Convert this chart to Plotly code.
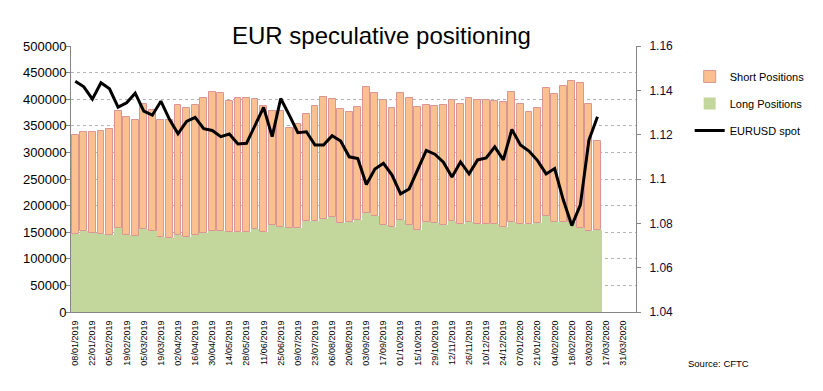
import plotly.graph_objects as go

# ---------------- data ----------------
weeks = [
    "08/01/2019", "15/01/2019", "22/01/2019", "29/01/2019",
    "05/02/2019", "12/02/2019", "19/02/2019", "26/02/2019",
    "05/03/2019", "12/03/2019", "19/03/2019", "26/03/2019",
    "02/04/2019", "09/04/2019", "16/04/2019", "23/04/2019", "30/04/2019",
    "07/05/2019", "14/05/2019", "21/05/2019", "28/05/2019",
    "04/06/2019", "11/06/2019", "18/06/2019", "25/06/2019",
    "02/07/2019", "09/07/2019", "16/07/2019", "23/07/2019", "30/07/2019",
    "06/08/2019", "13/08/2019", "20/08/2019", "27/08/2019",
    "03/09/2019", "10/09/2019", "17/09/2019", "24/09/2019",
    "01/10/2019", "08/10/2019", "15/10/2019", "22/10/2019", "29/10/2019",
    "05/11/2019", "12/11/2019", "19/11/2019", "26/11/2019",
    "03/12/2019", "10/12/2019", "17/12/2019", "24/12/2019", "31/12/2019",
    "07/01/2020", "14/01/2020", "21/01/2020", "28/01/2020",
    "04/02/2020", "11/02/2020", "18/02/2020", "25/02/2020",
    "03/03/2020", "10/03/2020",
]
future_weeks = ["17/03/2020", "24/03/2020", "31/03/2020", "07/04/2020"]

tick_labels = [
    "08/01/2019", "22/01/2019", "05/02/2019", "19/02/2019", "05/03/2019",
    "19/03/2019", "02/04/2019", "16/04/2019", "30/04/2019", "14/05/2019",
    "28/05/2019", "11/06/2019", "25/06/2019", "09/07/2019", "23/07/2019",
    "06/08/2019", "20/08/2019", "03/09/2019", "17/09/2019", "01/10/2019",
    "15/10/2019", "29/10/2019", "12/11/2019", "26/11/2019", "10/12/2019",
    "24/12/2019", "07/01/2020", "21/01/2020", "04/02/2020", "18/02/2020",
    "03/03/2020", "17/03/2020", "31/03/2020",
]

long_positions = [
    146000, 152000, 148500, 147000, 145000, 157000, 144500, 142500,
    155500, 152000, 140500, 138500, 144500, 140500, 144500, 148000,
    152500, 152000, 150000, 150000, 150000, 155500, 150000, 163000,
    159500, 157000, 157000, 170500, 172000, 174000, 178000, 168000,
    169000, 173000, 185500, 180000, 163000, 160000, 172500, 163500,
    154500, 168500, 167500, 163500, 170500, 164500, 168500, 164500,
    165000, 165500, 160000, 169500, 165500, 164500, 168000, 180000,
    168500, 168500, 169500, 158000, 153000, 153500,
]

short_positions = [
    186500, 186500, 190000, 193000, 198500, 220500, 221500, 218000,
    235500, 227000, 220000, 222500, 244200, 243000, 244500, 254000,
    260500, 259000, 246000, 252000, 252000, 244500, 237000, 214500,
    217500, 188600, 196500, 201500, 215000, 230000, 222300, 213000,
    207000, 212000, 237000, 232000, 235700, 223000, 239500, 238500,
    230500, 220200, 219500, 225200, 227500, 226800, 233500, 233500,
    233000, 230800, 234400, 243500, 225100, 211800, 215000, 240600,
    240900, 255900, 264200, 272600, 237600, 167800,
]

eurusd_spot = [
    1.1441, 1.1416, 1.1360, 1.1434, 1.1407, 1.1324, 1.1344, 1.1387,
    1.1306, 1.1288, 1.1351, 1.1269, 1.1204, 1.1260, 1.1278, 1.1227,
    1.1219, 1.1191, 1.1203, 1.1158, 1.1161, 1.1245, 1.1323, 1.1191,
    1.1363, 1.1288, 1.1209, 1.1213, 1.1153, 1.1153, 1.1195, 1.1171,
    1.1100, 1.1092, 1.0975, 1.1045, 1.1071, 1.1018, 1.0933, 1.0955,
    1.1041, 1.1129, 1.1112, 1.1076, 1.1009, 1.1077, 1.1023, 1.1086,
    1.1095, 1.1145, 1.1086, 1.1224, 1.1153, 1.1126, 1.1083, 1.1023,
    1.1047, 1.0906, 1.0790, 1.0883, 1.1176, 1.1281,
]

all_weeks = weeks + future_weeks
n_cat = len(all_weeks)
x_range = [-0.5, n_cat - 0.5]

FONT = "Liberation Sans, Arial, sans-serif"
AXIS_GREY = "#868686"

fig = go.Figure()

fig.add_trace(go.Bar(
    x=weeks, y=short_positions, base=long_positions,
    name="Short Positions", width=0.8,
    marker=dict(color="#fac090", line=dict(color="#d99694", width=1)),
    legendgroup="a", legendrank=1,
))
fig.add_trace(go.Bar(
    x=weeks, y=long_positions,
    name="Long Positions", width=1.0,
    marker=dict(color="#c3d69b", line=dict(width=0)),
    legendgroup="b", legendrank=2,
))
fig.add_trace(go.Scatter(
    x=weeks, y=eurusd_spot, yaxis="y2", mode="lines",
    name="EURUSD spot", line=dict(color="black", width=3),
    legendgroup="c", legendrank=3,
))

fig.update_layout(
    width=823, height=391,
    margin=dict(l=71, r=187, t=46, b=79),
    paper_bgcolor="white", plot_bgcolor="white",
    barmode="overlay", bargap=0,
    font=dict(family=FONT, color="black", size=11),
    showlegend=True,
    legend=dict(
        x=1.095, y=0.94, xanchor="left", yanchor="top",
        font=dict(size=11, family=FONT, color="black"),
        traceorder="grouped", tracegroupgap=8,
        bgcolor="rgba(0,0,0,0)", itemwidth=30,
    ),
    xaxis=dict(
        type="category", categoryorder="array", categoryarray=all_weeks,
        range=x_range, tickmode="array", tickvals=tick_labels, ticktext=tick_labels,
        tickangle=-90, tickfont=dict(size=9, family=FONT, color="black"),
        ticks="", showgrid=False, showline=True, linecolor=AXIS_GREY, linewidth=1,
        ticklabelstandoff=4, zeroline=False,
    ),
    xaxis2=dict(
        type="linear", overlaying="x", anchor="y", side="bottom",
        range=x_range, tickmode="linear", tick0=-0.5, dtick=1,
        ticks="outside", ticklen=4, tickcolor=AXIS_GREY, tickwidth=1,
        showticklabels=False, showgrid=False, zeroline=False, showline=False,
    ),
    xaxis3=dict(
        type="linear", overlaying="x", anchor="y", side="bottom",
        range=x_range, tickmode="array",
        tickvals=[i + 0.5 for i in range(1, len(weeks) - 1, 2)],
        ticks="inside", ticklen=72, tickcolor="#b8b8b8", tickwidth=1,
        showticklabels=False, showgrid=False, zeroline=False, showline=False,
        layer="above traces",
    ),
    yaxis=dict(
        range=[0, 500000], tickmode="linear", tick0=0, dtick=50000,
        tickformat="d", tickfont=dict(size=13, family=FONT, color="black"),
        showgrid=True, gridcolor="#b4b4b4", griddash="dot", gridwidth=1,
        showline=True, linecolor=AXIS_GREY, linewidth=1,
        ticks="outside", ticklen=4, tickcolor=AXIS_GREY,
        zeroline=False, ticklabelstandoff=-3,
    ),
    yaxis2=dict(
        overlaying="y", side="right", anchor="x",
        range=[1.04, 1.16], tickmode="linear", tick0=1.04, dtick=0.02,
        tickfont=dict(size=12, family=FONT, color="#0a0a3a"),
        showgrid=False, showline=True, linecolor=AXIS_GREY, linewidth=1,
        ticks="outside", ticklen=4, tickcolor=AXIS_GREY,
        zeroline=False, ticklabelstandoff=6,
    ),
    annotations=[
        dict(
            text="EUR speculative positioning", xref="paper", yref="paper",
            x=0.5487, y=1.0, xanchor="center", yanchor="bottom", yshift=-4,
            showarrow=False, bgcolor="white", borderpad=0,
            font=dict(size=24, family=FONT, color="black"),
        ),
        dict(
            text="Source: CFTC", xref="paper", yref="paper",
            x=1.088, y=-0.192, xanchor="left", yanchor="middle",
            showarrow=False, font=dict(size=9.5, family=FONT, color="black"),
        ),
    ],
)

fig.write_html(
    "out.html",
    config={"displayModeBar": False},
    post_script="document.body.style.margin='0';document.body.style.padding='0';",
)
